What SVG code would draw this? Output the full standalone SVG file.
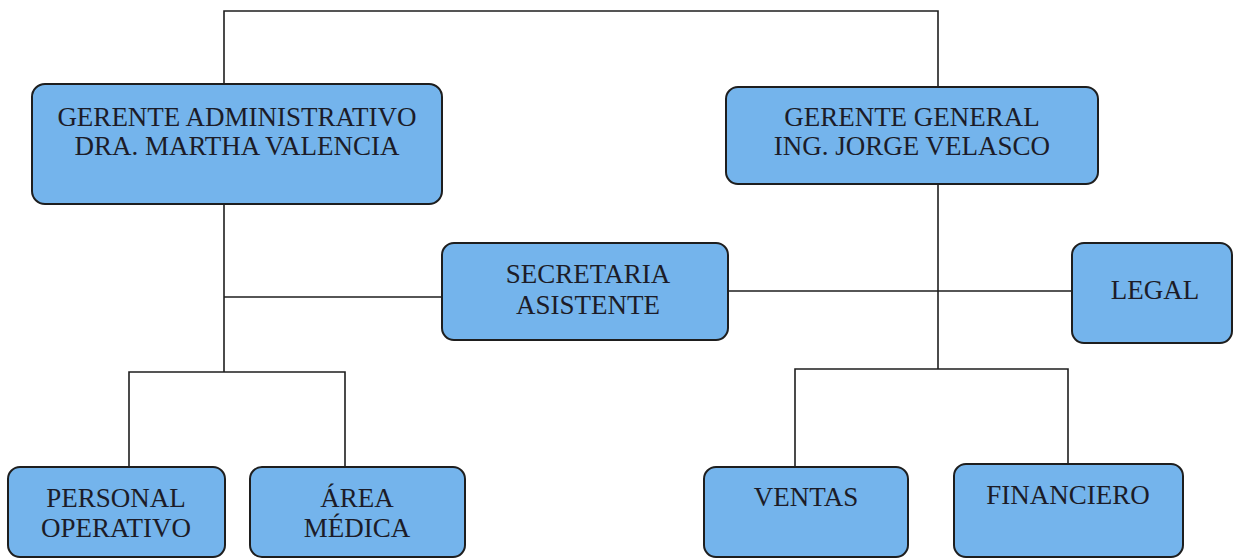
<svg xmlns="http://www.w3.org/2000/svg" width="1238" height="560" viewBox="0 0 1238 560">
<style>
.box{fill:#74b4ec;stroke:#1e1e1e;stroke-width:2}
.t{font-family:"Liberation Serif","Times New Roman",serif;font-size:27px;fill:#1c1c28;text-anchor:middle}
.ln{fill:none;stroke:#1e1e1e;stroke-width:1.6}
</style>
<rect width="1238" height="560" fill="#ffffff"/>
<g id="connectors">
<polyline class="ln" points="224,84 224,11 938,11 938,87"/>
<line class="ln" x1="224" y1="204" x2="224" y2="372"/>
<line class="ln" x1="224" y1="297" x2="442" y2="297"/>
<polyline class="ln" points="129,467 129,372 345,372 345,467"/>
<line class="ln" x1="938" y1="184" x2="938" y2="369"/>
<line class="ln" x1="728" y1="291" x2="1072" y2="291"/>
<polyline class="ln" points="795,467 795,369 1068,369 1068,464"/>
</g>
<g id="gerente-administrativo">
<rect class="box" x="32" y="84" width="410" height="120" rx="13"/>
<text class="t" x="237" y="126">GERENTE ADMINISTRATIVO</text>
<text class="t" x="237" y="155">DRA. MARTHA VALENCIA</text>
</g>
<g id="gerente-general">
<rect class="box" x="726" y="87" width="372" height="97" rx="12"/>
<text class="t" x="912" y="126">GERENTE GENERAL</text>
<text class="t" x="912" y="155">ING. JORGE VELASCO</text>
</g>
<g id="secretaria">
<rect class="box" x="442" y="243" width="286" height="97" rx="12"/>
<text class="t" x="588" y="283">SECRETARIA</text>
<text class="t" x="588" y="314">ASISTENTE</text>
</g>
<g id="legal">
<rect class="box" x="1072" y="243" width="160" height="100" rx="12"/>
<text class="t" x="1155" y="299">LEGAL</text>
</g>
<g id="personal-operativo">
<rect class="box" x="8" y="467" width="217" height="90" rx="12"/>
<text class="t" x="116" y="507">PERSONAL</text>
<text class="t" x="116" y="537">OPERATIVO</text>
</g>
<g id="area-medica">
<rect class="box" x="250" y="467" width="215" height="90" rx="12"/>
<text class="t" x="357" y="507">ÁREA</text>
<text class="t" x="357" y="537">MÉDICA</text>
</g>
<g id="ventas">
<rect class="box" x="704" y="467" width="204" height="90" rx="12"/>
<text class="t" x="806" y="506">VENTAS</text>
</g>
<g id="financiero">
<rect class="box" x="954" y="464" width="229" height="93" rx="12"/>
<text class="t" x="1068" y="504">FINANCIERO</text>
</g>
</svg>
